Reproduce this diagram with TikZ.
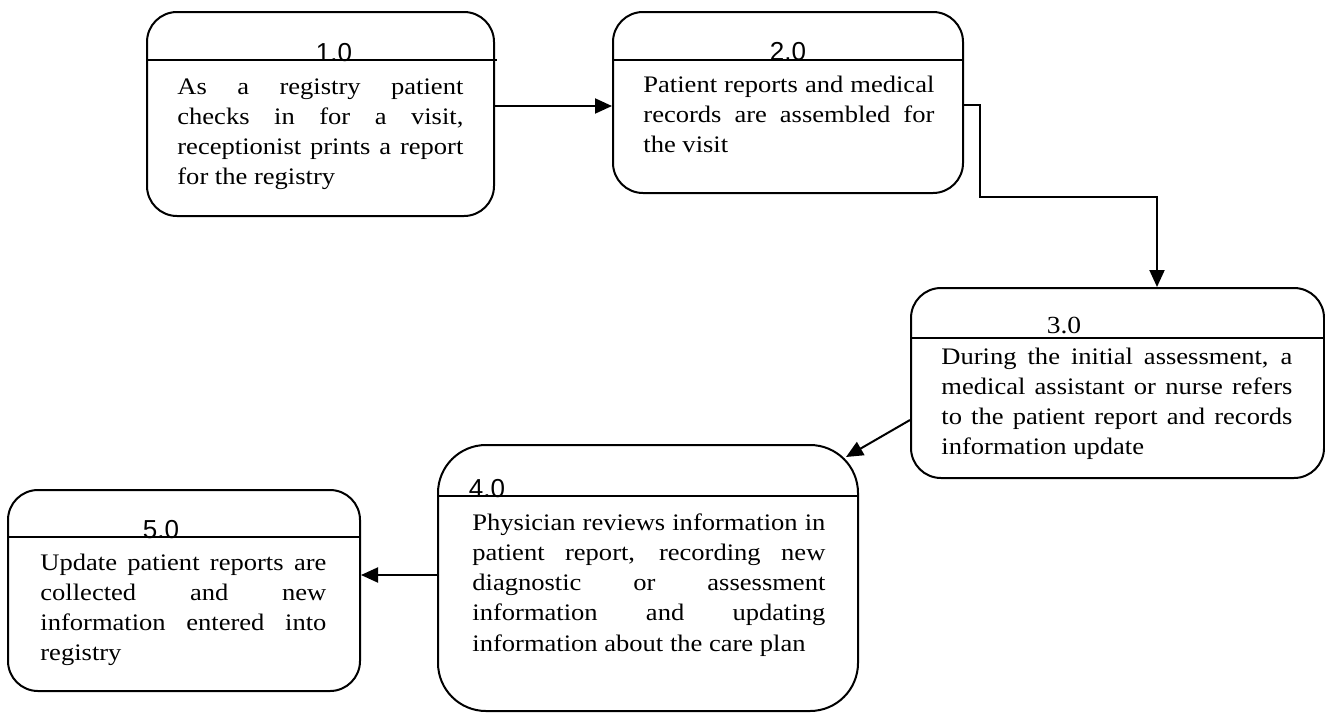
\documentclass[tikz,border=0pt]{standalone}
\usepackage{fontspec}
\setmainfont[FakeStretch=1.12]{Liberation Serif}
\newfontfamily\numfont{Liberation Sans}
\usetikzlibrary{arrows.meta,fit}
\tikzset{procbox/.style={draw,line width=1pt,rounded corners=15pt,inner sep=0pt}}
\tikzset{numnode/.style={font=\numfont\fontsize{13}{15}\selectfont,inner sep=0pt,anchor=base}}
\tikzset{textnode/.style={font=\fontsize{11.85}{15.15}\selectfont,align=justify,inner sep=0pt,anchor=base west}}
\tikzset{sepline/.style={line width=1pt}}
\hyphenpenalty=10000

\begin{document}
\begin{tikzpicture}[x=0.5pt,y=-0.5pt]
          \useasboundingbox (0,0) rectangle (1325,712);

          % Processus
          \node [procbox,fit={(147,12) (494,216)}] (P1) {};
          \node [procbox,fit={(613,12) (963,193)}] (P2) {};
          \node [procbox,fit={(911,288) (1324,478)}] (P3) {};
          \node [procbox,rounded corners=24pt,fit={(438,445) (858,711)}] (P4) {};
          \node [procbox,fit={(8,490) (360,691)}] (P5) {};

          % Separateurs
          \draw [sepline] (P1.west |- 0,60) -- (497,60);
          \draw [sepline] (P2.west |- 0,60) -- (P2.east |- 0,60);
          \draw [sepline] (P3.west |- 0,338) -- (P3.east |- 0,338);
          \draw [sepline] (P4.west |- 0,496) -- (P4.east |- 0,496);
          \draw [sepline] (P5.west |- 0,537) -- (P5.east |- 0,537);

          % Numeros
          \node [numnode] (N1) at (334,61) {1.0};
          \node [numnode] (N2) at (788,60) {2.0};
          \node [numnode,font=\fontsize{12.3}{14}\selectfont] (N3) at (1064,333) {3.0};
          \node [numnode] (N4) at (487,497) {4.0};
          \node [numnode] (N5) at (161,538) {5.0};

          % Descriptions
          \node [textnode,text width=143pt] (T1) at (177,94)
                {As a registry patient\linebreak checks in for a visit,\linebreak receptionist prints a report\linebreak for the registry};
          \node [textnode,text width=145.5pt] (T2) at (643,92)
                {Patient reports and medical\linebreak records are assembled for\linebreak the visit};
          \node [textnode,text width=175.5pt] (T3) at (941,364)
                {During the initial assessment, a\linebreak medical assistant or nurse refers\linebreak to the patient report and records\linebreak information update};
          \node [textnode,text width=176.5pt] (T4) at (472,530)
                {Physician reviews information in\linebreak patient report, recording new\linebreak diagnostic or assessment\linebreak information and updating\linebreak information about the care plan};
          \node [textnode,text width=143pt] (T5) at (40,570)
                {Update patient reports are\linebreak collected and new\linebreak information entered into\linebreak registry};

          % Flux
          \begin{scope}[line width=1pt,>={Triangle[length=8.5pt,width=7.5pt]}]
              \draw [->] (P1.east |- 0,106) -- (P2.west |- 0,106);
              \draw [->] (P2.east |- 0,105) -- (980,105) |- (1157,197) -- (P3.north -| 1157,0);
              \draw [->] (P3.west |- 0,420) -- ([shift={(-13,13)}]P4.north east);
              \draw [->] (P4.west |- 0,575) -- (P5.east |- 0,575);
          \end{scope}
\end{tikzpicture}
\end{document}
